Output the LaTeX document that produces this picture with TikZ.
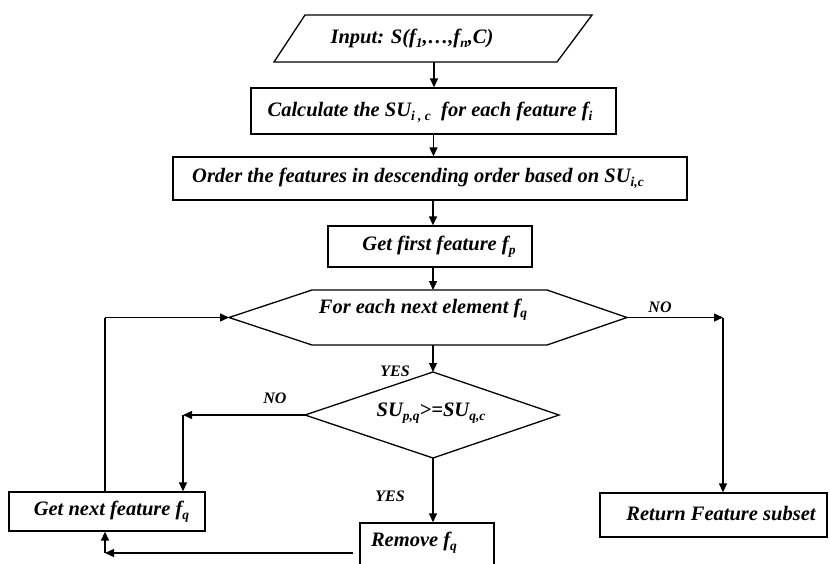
\documentclass[tikz,border=0pt]{standalone}
\usepackage{fontspec}
\setmainfont{Liberation Serif}
\usetikzlibrary{arrows.meta,calc}
\newcommand\sbs[1]{\raisebox{-0.2em}{\fontsize{13.5}{13.5}\selectfont #1}}
\tikzset{
  box/.style={draw, line width=1.3pt, inner sep=0pt},
  shp/.style={draw, line width=1.3pt},
  txt/.style={font=\fontsize{20.5}{24}\selectfont\bfseries\itshape, inner sep=0pt},
  lbl/.style={font=\fontsize{16}{18}\selectfont\bfseries\itshape, inner sep=0pt},
  arr/.style={line width=1.3pt, -{Triangle[length=9pt,width=8pt]}},
  ln/.style={line width=1.3pt}
}
\begin{document}
\begin{tikzpicture}[x=1pt,y=-1pt]
\useasboundingbox (0,0) rectangle (830,563);
\clip (0,0) rectangle (830,563);
% column
\coordinate (cx) at (433,0);
% parallelogram
\draw[shp] (305,15) -- (592,15) -- (557,62) -- (274,62) -- cycle;
\coordinate (inb) at (434,62);
\node[txt] (tin) at (412,38) {Input: S(f\sbs{1},…,f\sbs{n},C)};
% boxes
\node[box, minimum width=365pt, minimum height=46pt] (calc) at (433.5,111) {};
\node[txt] (tcalc) at (430,112) {Calculate the SU\sbs{i , c}\ \ for each feature f\sbs{i}};
\node[box, minimum width=514pt, minimum height=43pt] (order) at (430,178.5) {};
\node[txt] (torder) at (418,178) {Order the features in descending order based on SU\sbs{i,c}};
\node[box, minimum width=204pt, minimum height=41pt] (first) at (430,246.5) {};
\node[txt] (tfirst) at (439,247) {Get first feature f\sbs{p}};
% hexagon
\draw[shp] (229,317.5) -- (312,290) -- (547,290) -- (627,317.5) -- (547,345) -- (312,345) -- cycle;
\coordinate (hexL) at (229,317.5);
\coordinate (hexR) at (627,317.5);
\coordinate (hexT) at (433,290);
\coordinate (hexB) at (433,345);
\node[txt] (thex) at (423,310) {For each next element f\sbs{q}};
% diamond
\draw[shp] (305,415) -- (433,372) -- (559,415) -- (433,458) -- cycle;
\coordinate (dL) at (305,415);
\coordinate (dT) at (433,372);
\coordinate (dB) at (433,458);
\node[txt] (tdia) at (431,413) {SU\sbs{p,q}>=SU\sbs{q,c}};
% bottom boxes
\node[box, minimum width=196pt, minimum height=39pt] (next) at (107,511.5) {};
\node[txt] (tnext) at (111.5,512) {Get next feature f\sbs{q}};
\node[box, minimum width=134pt, minimum height=57pt] (remove) at (427,551.5) {};
\node[txt] (tremove) at (414,543) {Remove f\sbs{q}};
\node[box, minimum width=227pt, minimum height=44pt] (ret) at (713.5,515) {};
\node[txt] (tret) at (721,513) {Return Feature subset};
% corner coordinates
\coordinate (cR) at (723,317.5);
\coordinate (cN) at (183,415);
\coordinate (cL) at (105,317.5);
\coordinate (cB) at (105,553);
\coordinate (rb) at (353,553);
% main column arrows
\draw[arr] (inb) -- (inb |- calc.north);
\draw[arr] (calc.south) -- (calc.south |- order.north);
\draw[arr] (cx |- order.south) -- (cx |- first.north);
\draw[arr] (cx |- first.south) -- (hexT);
\draw[arr] (hexB) -- (dT);
% NO right branch
\draw[arr] (hexR) -- (cR);
\draw[arr] (cR) -- (cR |- ret.north);
% NO left branch
\draw[arr] (dL) -- (cN);
\draw[arr] (cN) -- (cN |- next.north);
% YES down
\draw[arr] (dB) -- (dB |- remove.north);
% loop back
\draw[ln] (cL |- next.north) -- (cL);
\draw[arr] (cL) -- (hexL);
\draw[arr] (rb) -- (cB);
\draw[arr] (cB) -- (cB |- next.south);
% labels
\node[lbl] (yes1) at (395,371) {YES};
\node[lbl] (no1) at (660,307) {NO};
\node[lbl] (no2) at (275,398) {NO};
\node[lbl] (yes2) at (390,496) {YES};
\end{tikzpicture}
\end{document}
